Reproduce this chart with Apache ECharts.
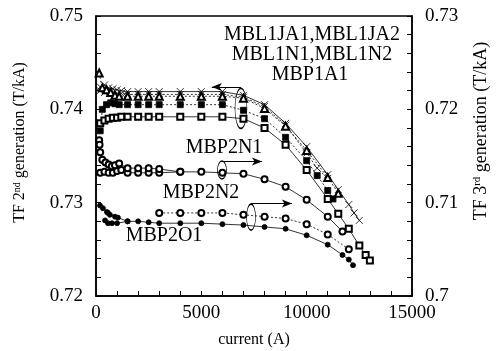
<!DOCTYPE html>
<html lang="en">
<head>
  <meta charset="UTF-8" />
  <title>TF vs current</title>
  <style>
    * { padding: 0; margin: 0; }
    html, body { width: 100%; height: 100%; background: #fff; }
    #main { width: 497px; height: 351px; }
  </style>
</head>
<body>
  <div id="main"></div>
  <script src="https://cdn.jsdelivr.net/npm/echarts@6/dist/echarts.min.js"></script>
  <script>
    // 2nd generation magnets (left axis, T/kA)
    var ja1Cur = [200, 400, 600, 800, 1000, 1200, 1500, 2000, 2500, 3000, 4000, 5000, 6000, 7000, 8000, 9000, 10000, 11000, 11500, 12000, 12250, 12500]
    var ja1Tf = [0.7424, 0.7426, 0.7423, 0.7422, 0.7421, 0.7420, 0.7419, 0.7419, 0.7419, 0.7419, 0.7419, 0.7419, 0.7419, 0.7415, 0.7405, 0.7385, 0.7360, 0.7330, 0.7314, 0.7298, 0.7289, 0.7281]
    var ja2Cur = [200, 400, 600, 800, 1000, 1200, 1500, 2000, 2500, 3000, 4000, 5000, 6000, 7000, 8000, 9000, 10000, 10500, 11000]
    var ja2Tf = [0.7420, 0.7418, 0.7420, 0.7418, 0.7417, 0.7417, 0.7416, 0.7416, 0.7416, 0.7416, 0.7416, 0.7416, 0.7416, 0.7413, 0.7403, 0.7383, 0.7353, 0.7337, 0.7326]
    var n1Cur = [150, 300, 500, 700, 900, 1100, 1500, 2000, 2500, 3000, 4000, 5000, 6000, 7000, 8000, 9000, 10000, 11000, 11500]
    var n1Tf = [0.7439, 0.7423, 0.7421, 0.7418, 0.7415, 0.7414, 0.7414, 0.7414, 0.7414, 0.7414, 0.7414, 0.7414, 0.7414, 0.7412, 0.7401, 0.7382, 0.7356, 0.7327, 0.7310]
    var n2Cur = [200, 300, 500, 700, 900, 1100, 1500, 2000, 2500, 3000, 4000, 5000, 6000, 7000, 8000, 9000, 10000, 10500, 11000, 11250]
    var n2Tf = [0.7377, 0.7400, 0.7405, 0.7407, 0.7406, 0.7405, 0.7405, 0.7405, 0.7405, 0.7405, 0.7405, 0.7405, 0.7405, 0.7399, 0.7390, 0.7370, 0.7345, 0.7329, 0.7313, 0.7304]
    var p1Cur = [200, 400, 600, 800, 1000, 1200, 1500, 2000, 2500, 3000, 4000, 5000, 6000, 7000, 8000, 9000, 10000, 11000, 11500, 12000, 12500, 12800, 13000]
    var p1Tf = [0.7385, 0.7388, 0.7390, 0.7391, 0.7391, 0.7392, 0.7392, 0.7392, 0.7392, 0.7392, 0.7392, 0.7392, 0.7392, 0.7390, 0.7380, 0.7362, 0.7335, 0.7304, 0.7288, 0.7272, 0.7254, 0.7244, 0.7238]

    // 3rd generation magnets (right axis, T/kA)
    var p2n1Cur = [200, 400, 600, 800, 1000, 1200, 1500, 2000, 2500, 3000, 4000, 5000, 6000, 7000, 8000, 9000, 10000, 11000, 11700]
    var p2n1Tf = [0.7132, 0.7133, 0.7132, 0.7132, 0.7134, 0.7135, 0.7132, 0.7132, 0.7132, 0.7132, 0.7133, 0.7133, 0.7132, 0.7131, 0.7125, 0.7117, 0.7103, 0.7085, 0.7069]
    var p2n1bCur = [150, 170, 200, 300, 450, 600, 750, 900, 1100, 1500, 2000, 2500, 3000, 4000]
    var p2n1bTf = [0.7167, 0.7162, 0.7154, 0.7146, 0.7143, 0.7141, 0.7139, 0.7140, 0.7142, 0.7137, 0.7137, 0.7137, 0.7136, 0.7133]
    var p2n2Cur = [3000, 4000, 5000, 6000, 7000, 8000, 9000, 10000, 11000, 12000]
    var p2n2Tf = [0.7089, 0.7089, 0.7089, 0.7089, 0.7087, 0.7085, 0.7083, 0.7077, 0.7066, 0.7050]
    var p2o1Cur = [430, 570, 760, 1000, 1500, 2000, 2500, 3000, 4000, 5000, 6000, 7000, 8000, 9000, 10000, 11000, 11700, 12000, 12200]
    var p2o1Tf = [0.7081, 0.7078, 0.7078, 0.7078, 0.7080, 0.7080, 0.7079, 0.7078, 0.7078, 0.7078, 0.7077, 0.7076, 0.7074, 0.7072, 0.7065, 0.7055, 0.7044, 0.7039, 0.7033]
    var p2o1bCur = [190, 330, 520, 570, 660, 900, 1040, 1500]
    var p2o1bTf = [0.7097, 0.7094, 0.7090, 0.7089, 0.7087, 0.7085, 0.7084, 0.7080]

    var font = "'Liberation Serif', 'Times New Roman', 'DejaVu Serif', serif"
    var cross = 'path://M0,0L10,10M10,0L0,10'
    var sizes = { circle: 5, emptyCircle: 6, rect: 6, emptyRect: 6, emptyTriangle: 7 }

    function zip(xs, ys) {
      return xs.map(function (x, i) { return [x, ys[i]] })
    }

    function mk(name, xs, ys, axis, symbol, dash, extra) {
      var s = {
        name: name,
        type: 'line',
        yAxisIndex: axis,
        data: zip(xs, ys),
        symbol: symbol,
        symbolSize: sizes[symbol] || 7,
        showAllSymbol: true,
        animation: false,
        lineStyle: { color: '#000', width: 0.8, type: dash ? [2, 2] : 'solid' },
        itemStyle: { color: '#000', borderColor: '#000', borderWidth: 0.8 },
        emphasis: { disabled: true },
        z: 3
      }
      return Object.assign(s, extra || {})
    }

    function arrow(from, to) {
      return {
        silent: true,
        symbol: ['none', 'arrow'],
        symbolSize: [6, 10],
        label: { show: false },
        lineStyle: { color: '#000', width: 1, type: 'solid' },
        data: [[{ coord: from }, { coord: to }]]
      }
    }

    function ring(at, size) {
      return {
        silent: true,
        symbol: 'circle',
        symbolSize: size,
        label: { show: false },
        itemStyle: { color: 'rgba(0,0,0,0)', borderColor: '#000', borderWidth: 1 },
        data: [{ coord: at }]
      }
    }

    // magnet labels
    function note(text, x, y) {
      return {
        text: text, left: x, top: y, padding: 0,
        textAlign: 'center', textVerticalAlign: 'middle',
        textStyle: { fontFamily: font, fontSize: 20, fontWeight: 'normal', color: '#000' }
      }
    }

    var myChart = echarts.init(document.getElementById('main'))

    var axisCommon = {
      axisLine: { lineStyle: { color: '#000', width: 1.5 } },
      axisTick: { inside: true, length: 5, lineStyle: { color: '#000' } },
      minorTick: { show: true, splitNumber: 5, length: 5, lineStyle: { color: '#000' } },
      splitLine: { show: false },
      minorSplitLine: { show: false },
      axisLabel: { color: '#000', fontFamily: font, fontSize: 19 }
    }

    function yName(size, shift) {
      return {
        nameLocation: 'middle',
        nameRotate: 90,
        nameTextStyle: {
          fontFamily: font, fontSize: size, color: '#000',
          padding: [0, 0, 0, shift],
          rich: { s: { fontFamily: font, fontSize: Math.round(size * 0.62), verticalAlign: 'top', color: '#000' } }
        }
      }
    }

    var option = {
      backgroundColor: '#fff',
      animation: false,
      textStyle: { fontFamily: font },
      title: [
        note('MBL1JA1,MBL1JA2', 312, 35),
        note('MBL1N1,MBL1N2', 312, 55),
        note('MBP1A1', 310, 75),
        note('MBP2N1', 224, 148),
        note('MBP2N2', 201, 193),
        note('MBP2O1', 164, 236)
      ],
      grid: {
        left: 96, right: 85, top: 16, bottom: 55, outerBoundsMode: 'none',
        show: true, borderColor: '#000', borderWidth: 1.5
      },
      xAxis: Object.assign({}, axisCommon, {
        type: 'value', min: 0, max: 15000, interval: 5000,
        name: 'current (A)', nameLocation: 'middle', nameGap: 36,
        nameTextStyle: { fontFamily: font, fontSize: 16, color: '#000' },
        axisLabel: Object.assign({}, axisCommon.axisLabel, { margin: 8, formatter: function (v) { return String(v) } })
      }),
      yAxis: [
        Object.assign({}, axisCommon, yName(16, 27), {
          type: 'value', min: 0.72, max: 0.75, interval: 0.01, position: 'left',
          name: 'TF 2{s|nd} generation (T/kA)', nameGap: 68,
          axisLabel: Object.assign({}, axisCommon.axisLabel, { margin: 13 })
        }),
        Object.assign({}, axisCommon, yName(18, 50), {
          type: 'value', min: 0.70, max: 0.73, interval: 0.01, position: 'right',
          name: 'TF 3{s|rd} generation (T/kA)', nameGap: 60,
          axisLabel: Object.assign({}, axisCommon.axisLabel, { margin: 13 })
        })
      ],
      series: [
        mk('MBL1JA1', ja1Cur, ja1Tf, 0, cross, false, {
          markLine: arrow([6880, 0.7424], [5500, 0.7424]),
          markPoint: ring([6880, 0.7401], [12, 40])
        }),
        mk('MBL1JA2', ja2Cur, ja2Tf, 0, cross, true),
        mk('MBL1N1', n1Cur, n1Tf, 0, 'emptyTriangle', true),
        mk('MBL1N2', n2Cur, n2Tf, 0, 'rect', true),
        mk('MBP1A1', p1Cur, p1Tf, 0, 'emptyRect', false),
        mk('MBP2N1', p2n1Cur, p2n1Tf, 1, 'emptyCircle', false, {
          markLine: arrow([5980, 0.7144], [7880, 0.7144]),
          markPoint: ring([5980, 0.7135], [9, 18])
        }),
        mk('MBP2N1 ', p2n1bCur, p2n1bTf, 1, 'emptyCircle', false),
        mk('MBP2N2', p2n2Cur, p2n2Tf, 1, 'emptyCircle', true, {
          markLine: arrow([7360, 0.7099], [9300, 0.7099]),
          markPoint: ring([7360, 0.70846], [9, 26])
        }),
        mk('MBP2O1', p2o1Cur, p2o1Tf, 1, 'circle', false),
        mk('MBP2O1 ', p2o1bCur, p2o1bTf, 1, 'circle', false)
      ]
    }

    myChart.setOption(option)
    window.addEventListener('resize', function () {
      myChart.resize()
    })
  </script>
</body>
</html>
